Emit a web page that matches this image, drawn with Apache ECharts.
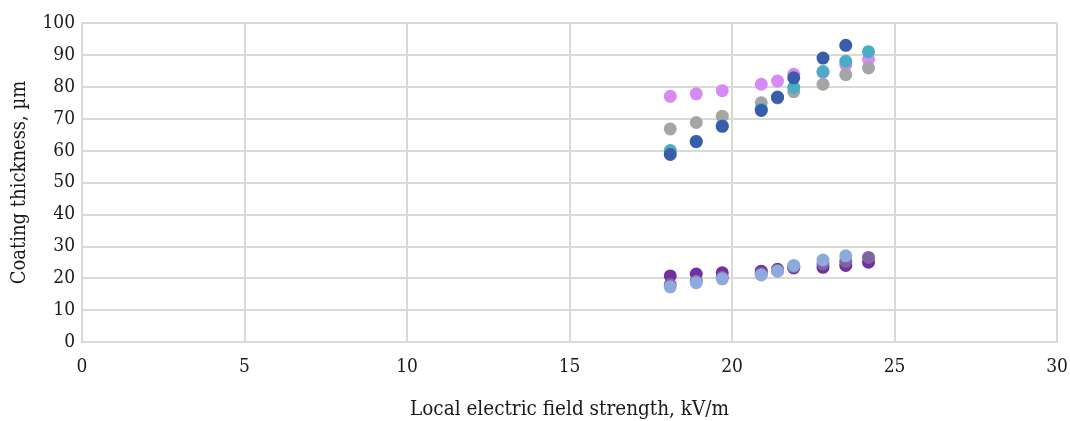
<!DOCTYPE html>
<html><head><meta charset="utf-8">
<script src="https://cdn.jsdelivr.net/npm/echarts@6/dist/echarts.min.js"></script>
<style>html,body{margin:0;padding:0;background:#fff}#c{width:1070px;height:421px}</style>
</head><body><div id="c"></div>
<script>
const fieldX = [18.1, 18.9, 19.7, 20.9, 21.4, 21.9, 22.8, 23.5, 24.2];
const pinkY = [77, 77.8, 78.8, 80.8, 81.8, 83.9, 84.5, 86.8, 88.6];
const grayY = [66.8, 68.8, 70.8, 75, 76.5, 78.5, 80.8, 83.8, 85.9];
const tealY = [60, 62.9, 67.8, 73, 76.8, 79.8, 84.8, 88, 91];
const blueY = [58.8, 62.8, 67.6, 72.6, 76.7, 82.8, 89, 93, null];
const purpleY = [20.7, 21.3, 21.7, 22.2, 22.8, 23.2, 23.4, 24, 25];
const mauveY = [18, 19.1, 20.3, 21.5, 22.5, 23.6, 24.5, 25.3, 26.5];
const lightBlueY = [17.3, 18.6, 19.8, 21, 22.2, 24, 25.7, 27, null];
const xTicks = { min: 0, max: 30, interval: 5 };
const yTicks = { min: 0, max: 100, interval: 10 };

const seriesDefs = [
  { name: 'A', y: pinkY, color: '#D78AF5' },
  { name: 'B', y: grayY, color: '#A5A5A5' },
  { name: 'C', y: tealY, color: '#4BACC6' },
  { name: 'D', y: blueY, color: '#3A5DAA' },
  { name: 'E', y: purpleY, color: '#7030A0' },
  { name: 'F', y: mauveY, color: '#8064A2' },
  { name: 'G', y: lightBlueY, color: '#8EA9DB' }
];

const font = '"DejaVu Serif Condensed", "DejaVu Serif", serif';
const chart = echarts.init(document.getElementById('c'), null, { renderer: 'canvas' });
chart.setOption({
  animation: false,
  backgroundColor: '#fff',
  grid: { left: 82, right: 13, top: 23, bottom: 79, containLabel: false, outerBoundsMode: 'none' },
  xAxis: {
    type: 'value', min: xTicks.min, max: xTicks.max, interval: xTicks.interval,
    name: 'Local electric field strength, kV/m', nameLocation: 'middle', nameGap: 57,
    nameTextStyle: { fontFamily: font, fontSize: 20.5, color: '#1a1a1a' },
    axisLine: { show: true, lineStyle: { color: '#D9D9D9', width: 2 } },
    axisTick: { show: false },
    axisLabel: { fontFamily: font, fontSize: 19, color: '#1a1a1a', margin: 16 },
    splitLine: { show: true, lineStyle: { color: '#D9D9D9', width: 2 } }
  },
  yAxis: {
    type: 'value', min: yTicks.min, max: yTicks.max, interval: yTicks.interval,
    name: 'Coating thickness, µm', nameLocation: 'middle', nameGap: 52,
    nameTextStyle: { fontFamily: font, fontSize: 20, color: '#1a1a1a' },
    axisLine: { show: true, lineStyle: { color: '#D9D9D9', width: 2 } },
    axisTick: { show: false },
    axisLabel: { fontFamily: font, fontSize: 19, color: '#1a1a1a', margin: 7 },
    splitLine: { show: true, lineStyle: { color: '#D9D9D9', width: 2 } }
  },
  series: seriesDefs.map(s => ({
    name: s.name, type: 'scatter', symbol: 'circle', symbolSize: 13,
    itemStyle: { color: s.color, opacity: 1 },
    data: fieldX.map((x, i) => s.y[i] == null ? null : [x, s.y[i]]).filter(d => d)
  }))
});
</script></body></html>
